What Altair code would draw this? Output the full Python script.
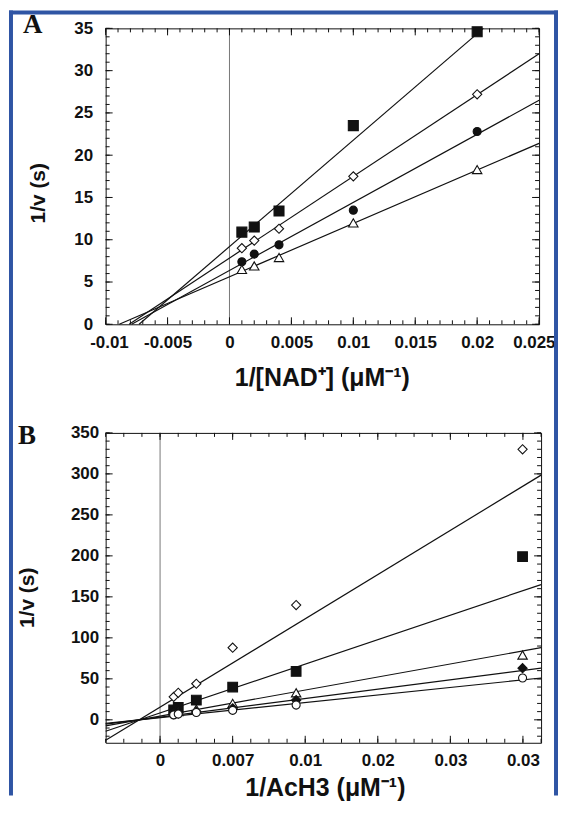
import altair as alt
import pandas as pd

INK = "#111111"
BLUE = "#2f55a4"
SANS = "Liberation Sans"
SERIF = "Liberation Serif"

# ---------------- Panel A data ----------------
A_X = [0.001, 0.002, 0.004, 0.01, 0.02]
A_SQ = [10.9, 11.5, 13.4, 23.5, 34.6]
A_DIA = [9.0, 9.9, 11.3, 17.5, 27.2]
A_CIRC = [7.4, 8.3, 9.4, 13.5, 22.8]
A_TRI = [6.5, 6.9, 7.9, 12.0, 18.3]

A_LINE_X0 = [-0.0073, -0.0081, -0.0079, -0.0089]
A_LINE_Y0 = [0.0, 0.0, 0.0, 0.0]
A_LINE_X1 = [0.0205, 0.025, 0.025, 0.025]
A_LINE_Y1 = [35.0, 32.0, 26.5, 21.4]

A_X_MAJOR = [-0.01, -0.005, 0, 0.005, 0.01, 0.015, 0.02, 0.025]
A_X_LABELS = ["-0.01", "-0.005", "0", "0.005", "0.01", "0.015", "0.02", "0.025"]
A_X_MINOR = [round(i * 0.001, 4) for i in range(-10, 26)]
A_Y_MAJOR = [0, 5, 10, 15, 20, 25, 30, 35]
A_Y_MINOR = list(range(0, 36))

# ---------------- Panel B data ----------------
B_X = [0.00125, 0.00167, 0.00333, 0.00667, 0.0125, 0.0333]
B_DIA_OPEN = [28, 33, 44, 88, 140, 330]
B_SQ = [12, 15, 24, 40, 59, 199]
B_TRI = [9, 10, 13, 20, 33, 79]
B_DIA_FILLED = [7, 8, 10, 14, 24, 63]
B_CIRC = [6, 7, 9, 11.5, 18, 51]

B_LINE_X0 = [-0.005] * 5
B_LINE_Y0 = [-25.0, -14.0, -7.4, -5.3, -4.3]
B_LINE_X1 = [0.035] * 5
B_LINE_Y1 = [298.5, 165.0, 88.0, 63.0, 51.0]

B_X_MAJOR = [i / 150 for i in range(6)]
B_X_LABELS = ["0", "0.007", "0.01", "0.02", "0.03", "0.03"]
B_X_MINOR = [i / 600 for i in range(-3, 22)]
B_Y_MAJOR = [0, 50, 100, 150, 200, 250, 300, 350]
B_Y_MINOR = list(range(-20, 351, 10))


def label_expr(values, labels):
    expr = "''"
    for v, l in reversed(list(zip(values, labels))):
        expr = f"abs(datum.value - ({v!r})) < 1e-9 ? '{l}' : {expr}"
    return expr


def dummy():
    return alt.Data(values=[{"d": 0}])


def blue_bar(x1, x2, y1, y2):
    return alt.Chart(dummy()).mark_rect(color=BLUE, strokeWidth=0).encode(
        x=alt.value(x1), x2=alt.value(x2), y=alt.value(y1), y2=alt.value(y2))


def build_panel(W, H, xdom, ydom, xmaj, xlabels, xmin, ymaj, ymin,
                xtitle, xtitle_pos, ytitle_pos, ylabpad, series, lines,
                letter, letter_pos, flush, frame=False):
    xscale = alt.Scale(domain=xdom, nice=False, zero=False)
    yscale = alt.Scale(domain=ydom, nice=False, zero=False)
    flush_opts = dict(labelFlush=True, labelFlushOffset=16) if flush else dict(labelFlush=False)
    xaxis = alt.Axis(values=xmaj, labelExpr=label_expr(xmaj, xlabels), ticks=False,
                     domain=False, grid=False, labelFont=SANS, labelFontSize=17,
                     labelFontWeight="bold", labelColor=INK, labelPadding=10,
                     labelOverlap=False, labelBound=False,
                     title=xtitle, titleFont=SANS, titleFontSize=25,
                     titleFontWeight="bold", titleColor=INK, titleX=xtitle_pos[0],
                     titleY=xtitle_pos[1], titleAlign="center",
                     titleBaseline="alphabetic", **flush_opts)
    yaxis = alt.Axis(values=ymaj, ticks=False, domain=False, grid=False,
                     labelFont=SANS, labelFontSize=17, labelFontWeight="bold",
                     labelColor=INK, labelPadding=ylabpad, labelFlush=False,
                     labelOverlap=False, title="1/v (s)", titleFont=SANS,
                     titleFontSize=21, titleFontWeight="bold", titleColor=INK,
                     titleAngle=270, titleX=ytitle_pos[0], titleY=ytitle_pos[1],
                     titleAlign="center", titleBaseline="alphabetic")

    def X(f):
        return alt.X(f"{f}:Q", scale=xscale, axis=xaxis)

    def Y(f):
        return alt.Y(f"{f}:Q", scale=yscale, axis=yaxis)

    layers = []
    layers.append(alt.Chart(pd.DataFrame({"v": [0.0]})).mark_rule(
        color="#555555", strokeWidth=0.8).encode(x=X("v")))
    for vals, ln in ((xmin, 4), (xmaj, 7)):
        df = pd.DataFrame({"v": vals})
        layers.append(alt.Chart(df).mark_rule(color=INK, strokeWidth=1).encode(
            x=X("v"), y=alt.value(H), y2=alt.value(H - ln)))
        layers.append(alt.Chart(df).mark_rule(color=INK, strokeWidth=1).encode(
            x=X("v"), y=alt.value(0), y2=alt.value(ln)))
    for vals, ln in ((ymin, 4), (ymaj, 7)):
        df = pd.DataFrame({"v": vals})
        layers.append(alt.Chart(df).mark_rule(color=INK, strokeWidth=1).encode(
            y=Y("v"), x=alt.value(0), x2=alt.value(ln)))
        layers.append(alt.Chart(df).mark_rule(color=INK, strokeWidth=1).encode(
            y=Y("v"), x=alt.value(W), x2=alt.value(W - ln)))
    ldf = pd.DataFrame({"x0": lines[0], "y0": lines[1], "x1": lines[2], "y1": lines[3]})
    layers.append(alt.Chart(ldf).mark_rule(color=INK, strokeWidth=1.2).encode(
        x=X("x0"), y=Y("y0"), x2="x1:Q", y2="y1:Q"))
    for xs, ys, shape, filled, size in series:
        df = pd.DataFrame({"x": xs, "y": ys})
        layers.append(alt.Chart(df).mark_point(
            shape=shape, filled=True, fill=INK if filled else "white",
            stroke=INK, strokeWidth=1.1, size=size, opacity=1).encode(
            x=X("x"), y=Y("y")))
    layers.append(alt.Chart(dummy()).mark_text(
        text=letter, font=SERIF, fontSize=27, fontWeight="bold", color=INK,
        align="left", baseline="top").encode(
        x=alt.value(letter_pos[0]), y=alt.value(letter_pos[1])))
    if frame:
        layers.append(blue_bar(-97, 454, -18, -14))
        layers.append(blue_bar(-97, -93, -18, 770))
        layers.append(blue_bar(450, 454, -18, 770))
    return alt.layer(*layers).properties(width=W, height=H)


panelA = build_panel(
    435, 297, [-0.01, 0.025], [0, 35], A_X_MAJOR, A_X_LABELS, A_X_MINOR,
    A_Y_MAJOR, A_Y_MINOR, "1/[NAD⁺] (μM⁻¹)", (217, 61), (-61, 165), 13,
    [(A_X, A_SQ, "square", True, 100),
     (A_X, A_DIA, "diamond", False, 85),
     (A_X, A_CIRC, "circle", True, 65),
     (A_X, A_TRI, "triangle-up", False, 90)],
    (A_LINE_X0, A_LINE_Y0, A_LINE_X1, A_LINE_Y1), "A", (-83, -16),
    flush=True, frame=True)

panelB = build_panel(
    437, 311, [-0.005, 0.035], [-28, 350], B_X_MAJOR, B_X_LABELS, B_X_MINOR,
    B_Y_MAJOR, B_Y_MINOR, "1/AcH3 (μM⁻¹)", (220, 53), (-72, 165), 7,
    [(B_X, B_DIA_OPEN, "diamond", False, 85),
     (B_X, B_SQ, "square", True, 95),
     (B_X, B_TRI, "triangle-up", False, 90),
     (B_X, B_DIA_FILLED, "diamond", True, 85),
     (B_X, B_CIRC, "circle", False, 65)],
    (B_LINE_X0, B_LINE_Y0, B_LINE_X1, B_LINE_Y1), "B", (-88, -10),
    flush=False)

chart = alt.vconcat(panelA, panelB, spacing=109, bounds="flush").properties(
    padding=0, background="white"
).configure_view(stroke=INK, strokeWidth=1)

chart.save("out.html", embed_options={"renderer": "svg", "actions": False})
